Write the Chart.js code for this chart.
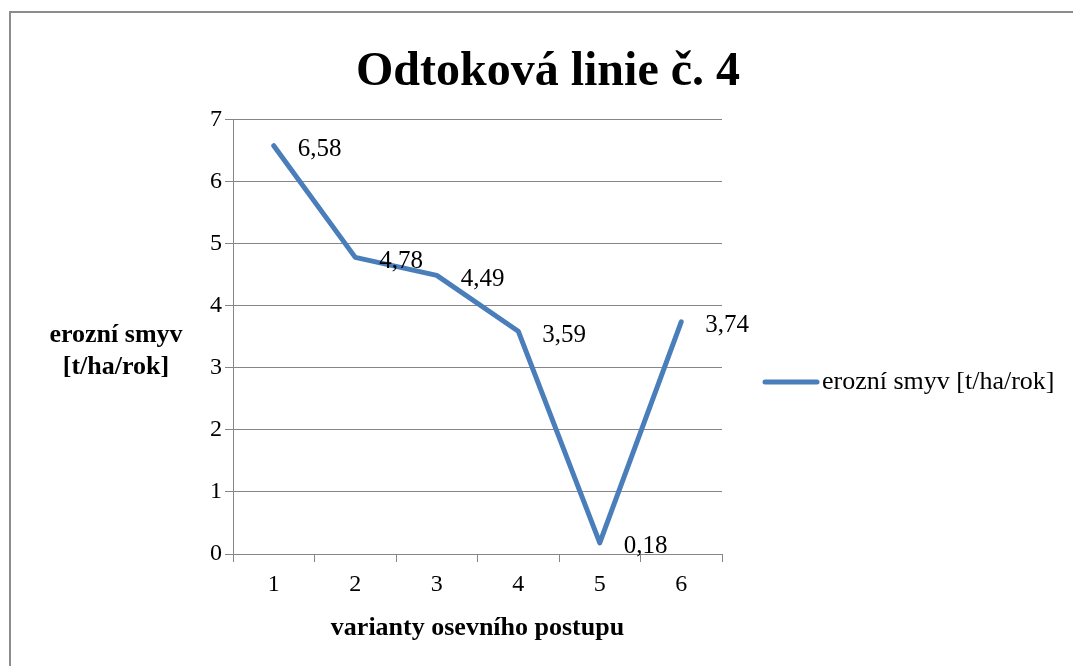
<!DOCTYPE html>
<html>
<head>
<meta charset="utf-8">
<script src="https://cdn.jsdelivr.net/npm/chart.js@4.4.1/dist/chart.umd.min.js"></script>
<style>
  html, body { margin: 0; padding: 0; background: #fff; overflow: hidden; }
  #wrap { position: relative; width: 1073px; height: 666px; }
  #frame { position: absolute; left: 9px; top: 11px; width: 1200px; height: 800px; border-top: 2px solid #8c8c8c; border-left: 2px solid #8c8c8c; box-sizing: border-box; pointer-events: none; }
  canvas { position: absolute; left: 0; top: 0; }
</style>
</head>
<body>
<div id="wrap">
  <canvas id="c" width="1073" height="666"></canvas>
  <div id="frame"></div>
</div>
<script>
const chartTitle = 'Odtoková linie č. 4';
const categories = ['1', '2', '3', '4', '5', '6'];
const seriesName = 'erozní smyv [t/ha/rok]';
const seriesValues = [6.58, 4.78, 4.49, 3.59, 0.18, 3.74];
const yTitleLines = ['erozní smyv', '[t/ha/rok]'];
const xTitle = 'varianty osevního postupu';

const SERIF = '"Liberation Serif", "Times New Roman", serif';
const GRID = '#868686';
const LINE = '#4a7ebb';

const valueLabels = {
  id: 'valueLabels',
  afterDatasetsDraw(chart) {
    const ctx = chart.ctx;
    const meta = chart.getDatasetMeta(0);
    ctx.save();
    ctx.font = '25px ' + SERIF;
    ctx.fillStyle = '#000';
    ctx.textAlign = 'left';
    ctx.textBaseline = 'middle';
    meta.data.forEach((pt, i) => {
      const v = chart.data.datasets[0].data[i];
      ctx.fillText(v.toFixed(2).replace('.', ','), pt.x + 24, pt.y + 4);
    });
    ctx.restore();
  }
};

const yTitle = {
  id: 'yTitle',
  afterDraw(chart) {
    const ctx = chart.ctx;
    const a = chart.chartArea;
    ctx.save();
    ctx.font = 'bold 26px ' + SERIF;
    ctx.fillStyle = '#000';
    ctx.textAlign = 'center';
    ctx.textBaseline = 'middle';
    ctx.fillText(yTitleLines[0], a.left - 117, a.top + 216);
    ctx.fillText(yTitleLines[1], a.left - 117, a.top + 248);
    ctx.restore();
  }
};

const sideLegend = {
  id: 'sideLegend',
  afterDraw(chart) {
    const ctx = chart.ctx;
    const a = chart.chartArea;
    const ds = chart.data.datasets[0];
    const x0 = a.right + 43;
    const y0 = 382;
    ctx.save();
    ctx.strokeStyle = ds.borderColor;
    ctx.lineWidth = ds.borderWidth;
    ctx.lineCap = 'round';
    ctx.beginPath();
    ctx.moveTo(x0, y0);
    ctx.lineTo(x0 + 52, y0);
    ctx.stroke();
    ctx.font = '26px ' + SERIF;
    ctx.fillStyle = '#000';
    ctx.textAlign = 'left';
    ctx.textBaseline = 'middle';
    ctx.fillText(ds.label, x0 + 57, y0);
    ctx.restore();
  }
};

new Chart(document.getElementById('c'), {
  type: 'line',
  data: {
    labels: categories,
    datasets: [{
      label: seriesName,
      data: seriesValues,
      borderColor: LINE,
      backgroundColor: LINE,
      borderWidth: 5,
      borderCapStyle: 'round',
      borderJoinStyle: 'round',
      pointRadius: 0,
      pointHoverRadius: 0,
      tension: 0,
      fill: false,
      yAxisID: 'y'
    }]
  },
  options: {
    responsive: false,
    animation: false,
    events: [],
    layout: { padding: { left: 38, right: 15, top: 0, bottom: 6 } },
    plugins: {
      title: {
        display: true,
        text: chartTitle,
        color: '#000',
        font: { family: SERIF, size: 48, weight: 'bold' },
        padding: { top: 44, bottom: 18 }
      },
      legend: { display: false },
      tooltip: { enabled: false }
    },
    scales: {
      x: {
        offset: true,
        grid: { display: true, offset: true, drawOnChartArea: false, drawTicks: true, tickLength: 8, color: GRID, lineWidth: 1 },
        border: { display: true, color: GRID, width: 1 },
        ticks: { color: '#000', padding: 8, font: { family: SERIF, size: 24 }, maxRotation: 0 },
        title: {
          display: true,
          text: xTitle,
          color: '#000',
          font: { family: SERIF, size: 26, weight: 'bold' },
          padding: { top: 6, bottom: 16 }
        }
      },
      y: {
        position: 'left',
        min: 0,
        max: 7,
        ticks: { stepSize: 1, color: '#000', padding: 3, font: { family: SERIF, size: 24 } },
        grid: { color: GRID, lineWidth: 1, drawTicks: true, tickLength: 8 },
        border: { display: true, color: GRID, width: 1 },
        afterFit(scale) { scale.width = 195; }
      },
      legendSpace: {
        type: 'linear',
        position: 'right',
        display: true,
        grid: { display: false, drawTicks: false },
        border: { display: false },
        ticks: { display: false },
        afterFit(scale) { scale.width = 336; }
      }
    }
  },
  plugins: [valueLabels, yTitle, sideLegend]
});
</script>
</body>
</html>
